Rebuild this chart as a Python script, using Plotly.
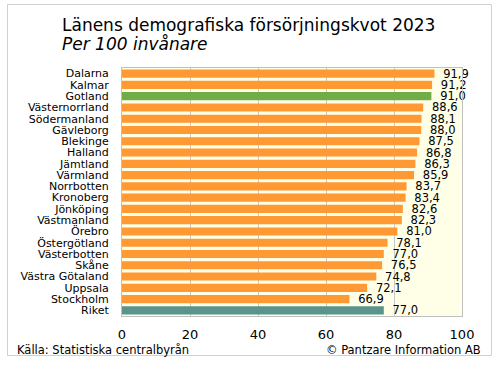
import plotly.graph_objects as go

categories = ["Dalarna", "Kalmar", "Gotland", "Västernorrland", "Södermanland", "Gävleborg",
              "Blekinge", "Halland", "Jämtland", "Värmland", "Norrbotten", "Kronoberg",
              "Jönköping", "Västmanland", "Örebro", "Östergötland", "Västerbotten", "Skåne",
              "Västra Götaland", "Uppsala", "Stockholm", "Riket"]
values = [91.9, 91.2, 91.0, 88.6, 88.1, 88.0, 87.5, 86.8, 86.3, 85.9, 83.7, 83.4,
          82.6, 82.3, 81.0, 78.1, 77.0, 76.5, 74.8, 72.1, 66.9, 77.0]
highlight = {"Gotland": "#70AD47", "Riket": "#5B948F"}
base_color = "#FF9933"
x_ticks = [0, 20, 40, 60, 80, 100]

colors = [highlight.get(c, base_color) for c in categories]

W, H = 498, 372
L, R, T, B = 122, 462, 68, 316

def px_x(x):
    return (x - L) / (R - L)

def px_y(y):
    return (B - y) / (B - T)

FONT = "DejaVu Sans"

fig = go.Figure(go.Bar(
    x=values, y=categories, orientation="h",
    marker=dict(color=colors, line=dict(width=0)),
    width=0.72,
    texttemplate="\u2002%{x:.1f}", textposition="outside", constraintext="none",
    textfont=dict(family=FONT, size=11.5, color="#000000"),
    cliponaxis=False, hoverinfo="skip",
))

fig.update_layout(
    width=W, height=H,
    margin=dict(l=L, r=W - R, t=T, b=H - B, pad=0, autoexpand=False),
    paper_bgcolor="white", plot_bgcolor="#FFFFE8",
    separators=", ",
    showlegend=False,
    bargap=0.28,
    font=dict(family=FONT, size=12, color="#000000"),
    xaxis=dict(range=[0, 100], tickvals=x_ticks, showgrid=True, gridcolor="#C8C8C8", gridwidth=1,
               zeroline=False, showline=True, linecolor="#C0C0C0", mirror=True, ticks="",
               tickfont=dict(family=FONT, size=13), ticklabelstandoff=6, automargin=False,
               fixedrange=True),
    yaxis=dict(categoryorder="array", categoryarray=categories, autorange="reversed",
               tickmode="array", tickvals=categories, ticktext=categories,
               showgrid=False, zeroline=False, showline=True, linecolor="#C0C0C0", mirror=True,
               ticks="", tickfont=dict(family=FONT, size=11), ticklabelstandoff=10,
               automargin=False, fixedrange=True),
    shapes=[dict(type="rect", xref="paper", yref="paper",
                 x0=px_x(7.5), x1=px_x(491.5), y0=px_y(355.5), y1=px_y(4.5),
                 line=dict(color="#D0D0D0", width=1), fillcolor="rgba(0,0,0,0)", layer="below")],
    annotations=[
        dict(text="Länens demografiska försörjningskvot 2023", xref="paper", yref="paper",
             x=px_x(60), y=px_y(37), xanchor="left", yanchor="bottom", showarrow=False,
             font=dict(family=FONT, size=17, color="#000000")),
        dict(text="<i>Per 100 invånare</i>", xref="paper", yref="paper",
             x=px_x(60), y=px_y(56), xanchor="left", yanchor="bottom", showarrow=False,
             font=dict(family=FONT, size=17, color="#000000")),
        dict(text="Källa: Statistiska centralbyrån", xref="paper", yref="paper",
             x=px_x(15), y=px_y(350), xanchor="left", yanchor="middle", showarrow=False,
             font=dict(family=FONT, size=11.5, color="#000000")),
        dict(text="© Pantzare Information AB", xref="paper", yref="paper",
             x=px_x(483), y=px_y(350), xanchor="right", yanchor="middle", showarrow=False,
             font=dict(family=FONT, size=11.5, color="#000000")),
    ],
)

fig.write_html("out.html", config={"displayModeBar": False, "staticPlot": True},
               post_script="document.body.style.margin='0';")
